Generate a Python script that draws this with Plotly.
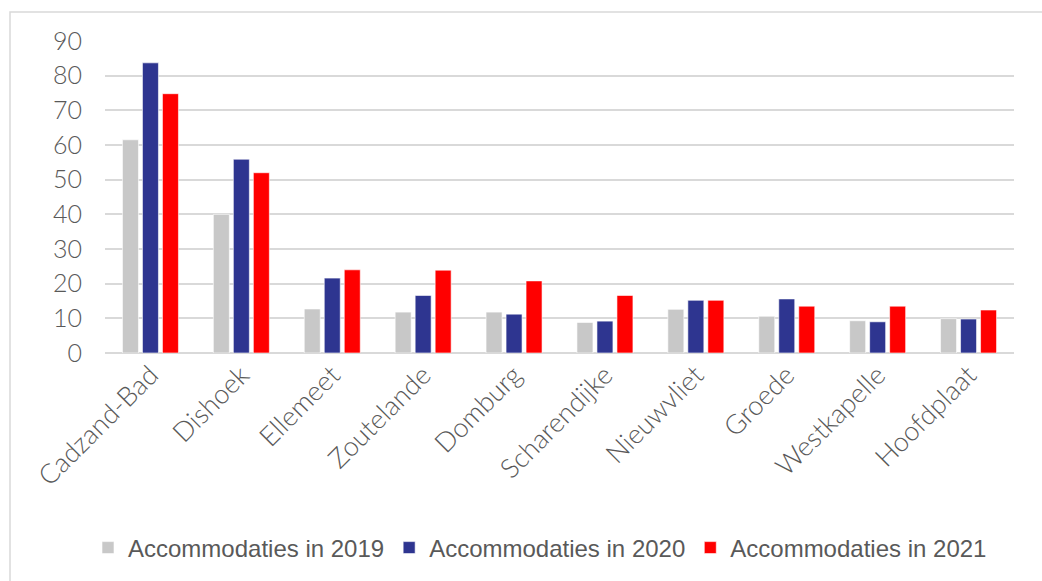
import plotly.graph_objects as go

places = ["Cadzand-Bad", "Dishoek", "Ellemeet", "Zoutelande", "Domburg",
          "Scharendijke", "Nieuwvliet", "Groede", "Westkapelle", "Hoofdplaat"]
acc_2019 = [61.5, 40.0, 12.7, 11.8, 11.8, 8.8, 12.6, 10.6, 9.3, 9.9]
acc_2020 = [83.7, 55.9, 21.6, 16.6, 11.2, 9.2, 15.2, 15.6, 9.0, 9.8]
acc_2021 = [74.8, 52.0, 24.0, 23.9, 20.8, 16.6, 15.2, 13.5, 13.5, 12.4]
series_names = ["Accommodaties in 2019", "Accommodaties in 2020", "Accommodaties in 2021"]
colors = ["#C8C8C8", "#2E3590", "#FF0000"]

fig = go.Figure()
for name, vals, col in zip(series_names, [acc_2019, acc_2020, acc_2021], colors):
    fig.add_trace(go.Bar(x=places, y=vals, name=name,
                         marker=dict(color=col, line=dict(color="white", width=0.6))))

L, R, T, B = 105, 28, 41, 228
pw, ph = 1042 - L - R, 581 - T - B

# outer chart frame (light gray), runs off right and bottom edges
fig.add_shape(type="rect", xref="paper", yref="paper",
              x0=(10 - L) / pw, x1=(1060 - L) / pw,
              y0=-(600 - 581 + B) / ph, y1=1 + (T - 12) / ph,
              line=dict(color="#D9D9D9", width=1.5), fillcolor="rgba(0,0,0,0)", layer="below")

fig.update_layout(
    width=1042, height=581,
    margin=dict(l=L, r=R, t=T, b=B, autoexpand=False),
    paper_bgcolor="white", plot_bgcolor="white",
    barmode="group", bargap=0.34, bargroupgap=0.2,
    font=dict(family="Lato", color="#595959", weight=300),
    showlegend=True,
    legend=dict(orientation="h", x=(540 - L) / pw, xanchor="center",
                y=-(548 - 353) / ph, yanchor="middle",
                font=dict(family="Liberation Sans", size=24, color="#595959"),
                itemwidth=30, traceorder="normal"),
    xaxis=dict(tickangle=-45, tickfont=dict(size=27, weight=300), showgrid=False,
               showline=False, ticks="", automargin=False),
    yaxis=dict(range=[0, 90], dtick=10, tickfont=dict(size=25, weight=300),
               gridcolor="#D9D9D9", gridwidth=1.5, zeroline=True,
               zerolinecolor="#D9D9D9", zerolinewidth=2, ticks="",
               ticklabelstandoff=22, automargin=False),
)

fig.write_html("out.html", config={"displayModeBar": False},
               post_script="document.body.style.margin='0';")
